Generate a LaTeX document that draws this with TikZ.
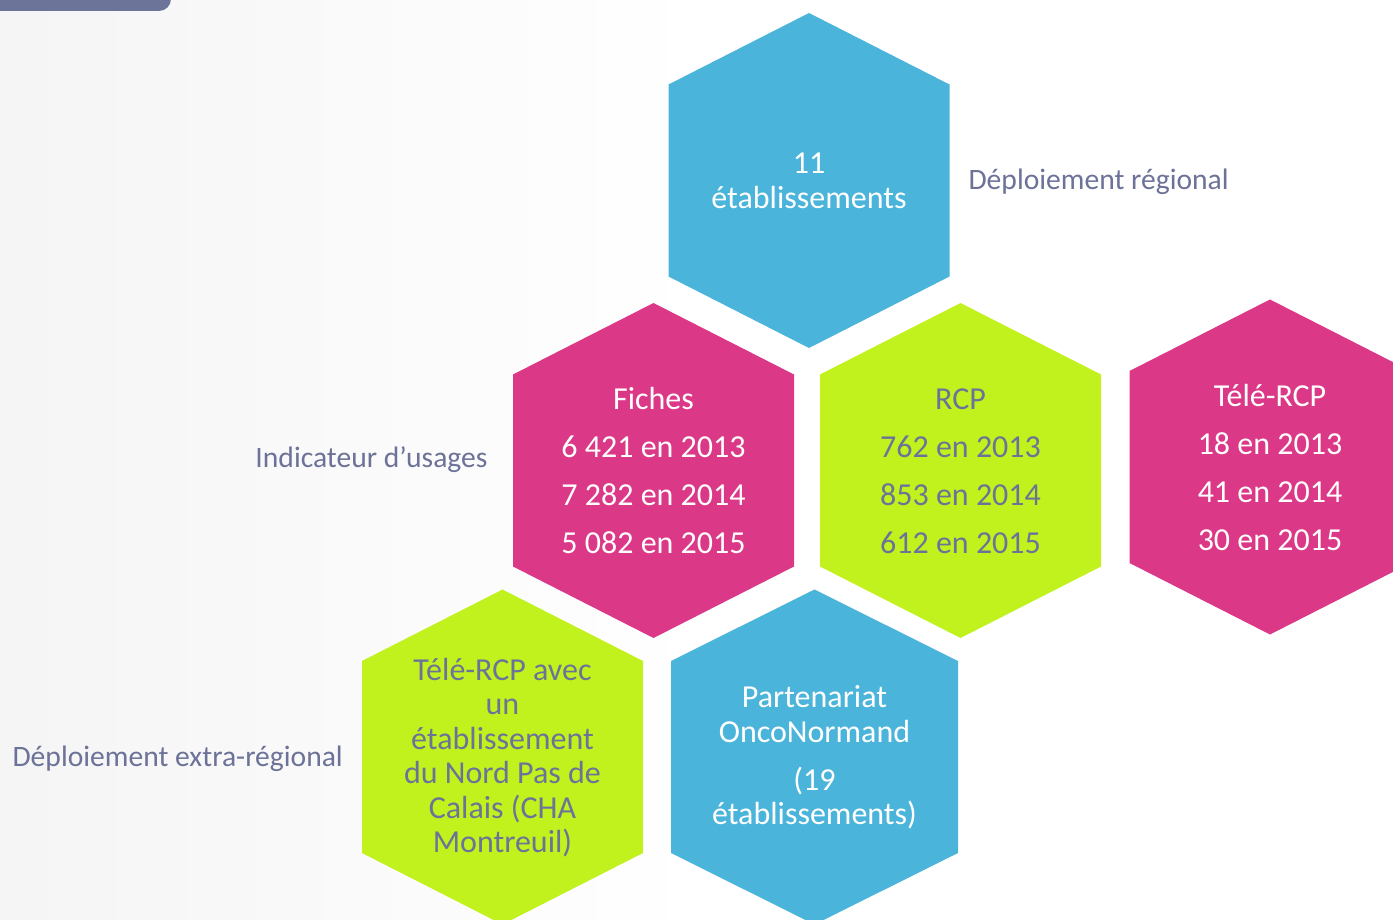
\documentclass[tikz,border=0pt]{standalone}
\usepackage{fontspec}
\setmainfont{Carlito}
\usepackage{tikz}
\definecolor{hexblue}{RGB}{75, 180, 218}
\definecolor{hexpink}{RGB}{219, 57, 135}
\definecolor{hexgreen}{RGB}{194, 242, 30}
\definecolor{labelgray}{RGB}{108, 114, 152}
\definecolor{barslate}{RGB}{108, 117, 153}

\newcommand{\hexcell}[4][140.5]{\fill[#2, shift={(#3,#4)}] (0,-167.5) -- (#1,-96) -- (#1,96) -- (0,167.5) -- (-#1,96) -- (-#1,-96) -- cycle;}

\begin{document}
\begin{tikzpicture}[x=1pt, y=-1pt,
    every node/.style={font=\fontsize{32}{34.5}\selectfont, align=center},
    hexwhite/.style={text=white},
    hexgray/.style={text=labelgray},
    sidelabel/.style={text=labelgray, font=\fontsize{29.6}{34.5}\selectfont},
    bigrows/.style={font=\fontsize{32}{48}\selectfont}]
\useasboundingbox (0,0) rectangle (1393,920);
\clip (0,0) rectangle (1393,920);
\fill[white] (0,0) rectangle (1393,920);
\shade[left color=black!4, right color=white] (0,0) rectangle (700,920);
\fill[barslate, rounded corners=12] (-30,-30) rectangle (171,11);

\hexcell{hexblue}{809}{180.5}
\hexcell{hexpink}{653.5}{470.5}
\hexcell{hexgreen}{960.5}{470.5}
\hexcell{hexpink}{1270}{467}
\hexcell{hexgreen}{502.5}{757}
\hexcell[143.5]{hexblue}{814.5}{757}

\node[hexwhite] (regional) at (809,181) {11\\établissements};
\node[hexwhite, bigrows] (fiches) at (653.5,471) {Fiches\\6 421 en 2013\\7 282 en 2014\\5 082 en 2015};
\node[hexgray, bigrows] (rcp) at (960.5,471) {RCP\\762 en 2013\\853 en 2014\\612 en 2015};
\node[hexwhite, bigrows] (telercp) at (1270,467) {Télé-RCP\\18 en 2013\\41 en 2014\\30 en 2015};
\node[hexgray] (montreuil) at (502.5,757.5) {Télé-RCP avec\\un\\établissement\\du Nord Pas de\\Calais (CHA\\Montreuil)};
\node[hexwhite] (onconormand) at (814.5,757.5) {Partenariat\\OncoNormand\\[13.5]{(19}\\établissements)};

\node[sidelabel, anchor=west] (deploiement) at (965,181.5) {Déploiement régional};
\node[sidelabel, anchor=east] (usages) at (491,459.5) {Indicateur d’usages};
\node[sidelabel, anchor=west] (extra) at (9,758.5) {Déploiement extra-régional};
\end{tikzpicture}
\end{document}
